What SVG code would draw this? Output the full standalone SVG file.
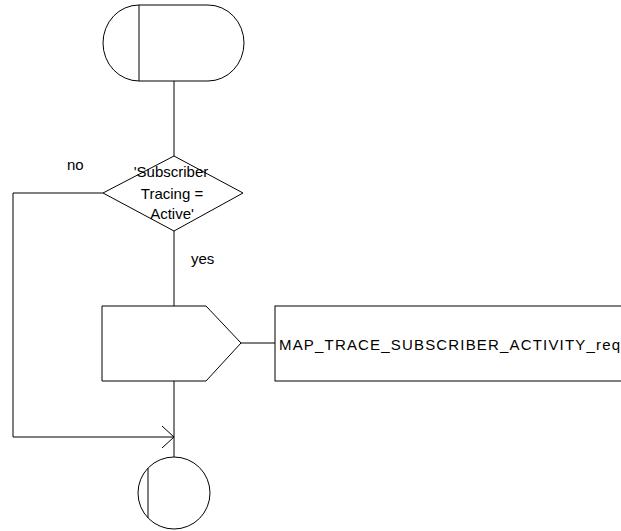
<svg xmlns="http://www.w3.org/2000/svg" width="621" height="531" viewBox="0 0 621 531">
<style>
.s{fill:none;stroke:#000;stroke-width:1}
.t{font-family:"Liberation Sans",Arial,sans-serif;font-size:15px;fill:#000}
</style>
<rect width="621" height="531" fill="#fff"/>
<g id="start">
<path class="s" d="M139,5 H208 A36,38 0 0 1 208,81 H139 A36,38 0 0 1 139,5 Z"/>
<line class="s" x1="139" y1="5" x2="139" y2="81"/>
</g>
<g id="decision">
<polygon class="s" points="174,156 243,193 174,231 103,193"/>
<text class="t" text-anchor="middle" x="171" y="177">'Subscriber</text>
<text class="t" text-anchor="middle" x="172" y="199">Tracing =</text>
<text class="t" text-anchor="middle" x="172" y="219">Active'</text>
</g>
<g id="output">
<polygon class="s" points="102,306 206,306 241,343 206,381 102,381"/>
</g>
<g id="signal">
<rect class="s" x="275" y="306" width="360" height="75"/>
<text class="t" x="279" y="350" textLength="341" lengthAdjust="spacing">MAP_TRACE_SUBSCRIBER_ACTIVITY_req</text>
</g>
<g id="end">
<circle class="s" cx="174" cy="493" r="36"/>
<line class="s" x1="148" y1="468" x2="148" y2="518"/>
</g>
<g id="connectors">
<line class="s" x1="174" y1="81" x2="174" y2="156"/>
<line class="s" x1="174" y1="231" x2="174" y2="306"/>
<line class="s" x1="174" y1="381" x2="174" y2="457"/>
<line class="s" x1="241" y1="343" x2="275" y2="343"/>
<polyline class="s" points="103,193 13,193 13,437 174,437"/>
<polyline class="s" points="162,426 174,437 162,448"/>
<text class="t" x="67" y="170">no</text>
<text class="t" x="191" y="264">yes</text>
</g>
</svg>
